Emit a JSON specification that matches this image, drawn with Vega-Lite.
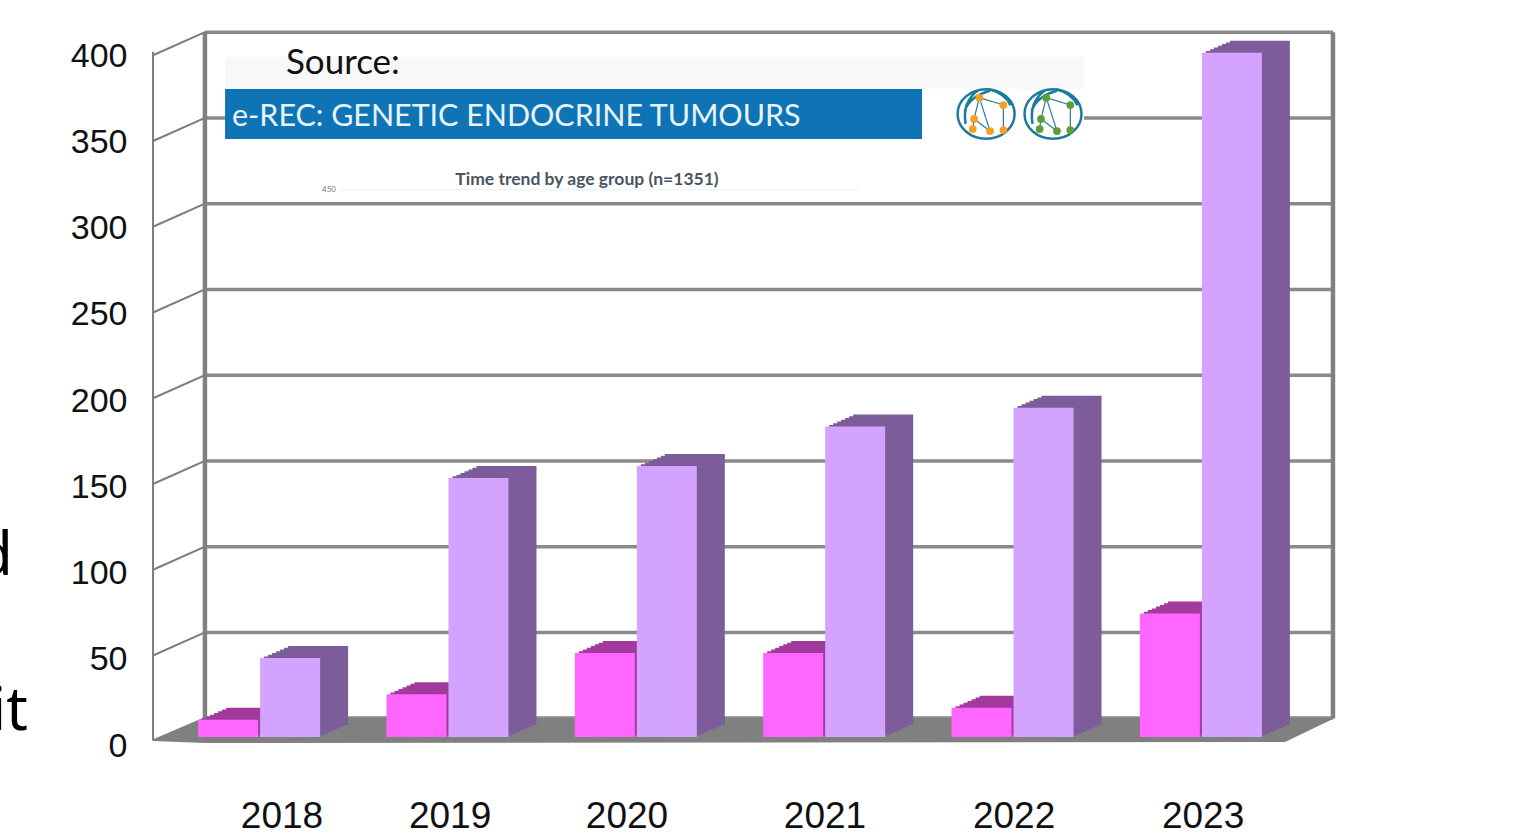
{
"$schema":"https://vega.github.io/schema/vega-lite/v6.json",
"width":1533,"height":836,"padding":0,"autosize":{"type":"none"},"background":"white",
"config":{"view":{"stroke":null}},
"datasets":{
"bars":[
{"year":"2018","series":"children","count":10},{"year":"2018","series":"adult","count":46},
{"year":"2019","series":"children","count":25},{"year":"2019","series":"adult","count":151},
{"year":"2020","series":"children","count":49},{"year":"2020","series":"adult","count":158},
{"year":"2021","series":"children","count":49},{"year":"2021","series":"adult","count":181},
{"year":"2022","series":"children","count":17},{"year":"2022","series":"adult","count":192},
{"year":"2023","series":"children","count":72},{"year":"2023","series":"adult","count":399}],
"rules":[
{"kind":"grid","a":2017.712,"b":2023.712,"u":11.08,"v":11.08},
{"kind":"grid","a":2017.712,"b":2023.712,"u":61,"v":61},
{"kind":"grid","a":2017.712,"b":2023.712,"u":111,"v":111},
{"kind":"grid","a":2017.712,"b":2023.712,"u":161,"v":161},
{"kind":"grid","a":2017.712,"b":2023.712,"u":211,"v":211},
{"kind":"grid","a":2017.712,"b":2023.712,"u":261,"v":261},
{"kind":"grid","a":2017.712,"b":2023.712,"u":311,"v":311},
{"kind":"grid","a":2017.712,"b":2023.712,"u":361,"v":361},
{"kind":"grid","a":2017.712,"b":2023.712,"u":411,"v":411},
{"kind":"wall","a":2017.712,"b":2017.712,"u":11.08,"v":411},
{"kind":"wall","a":2023.712,"b":2023.712,"u":11.08,"v":411},
{"kind":"side","a":2017.436,"b":2017.436,"u":-2,"v":399.5},
{"kind":"side","a":2017.436,"b":2017.712,"u":-2,"v":11},
{"kind":"side","a":2017.436,"b":2017.712,"u":47.5,"v":61},
{"kind":"side","a":2017.436,"b":2017.712,"u":97.5,"v":111},
{"kind":"side","a":2017.436,"b":2017.712,"u":147.5,"v":161},
{"kind":"side","a":2017.436,"b":2017.712,"u":197.5,"v":211},
{"kind":"side","a":2017.436,"b":2017.712,"u":247.5,"v":261},
{"kind":"side","a":2017.436,"b":2017.712,"u":297.5,"v":311},
{"kind":"side","a":2017.436,"b":2017.712,"u":347.5,"v":361},
{"kind":"side","a":2017.436,"b":2017.712,"u":397.5,"v":411},
{"kind":"faint","a":2018.43,"b":2021.196,"u":319,"v":319},
{"kind":"net","a":2021.831,"b":2021.803,"u":372.8,"v":360.4},
{"kind":"net","a":2021.831,"b":2021.959,"u":372.8,"v":368.5},
{"kind":"net","a":2021.803,"b":2021.888,"u":360.4,"v":353.3},
{"kind":"net","a":2021.831,"b":2021.888,"u":372.8,"v":353.3},
{"kind":"net","a":2021.959,"b":2021.959,"u":368.5,"v":353.9},
{"kind":"net","a":2021.803,"b":2021.796,"u":360.4,"v":354.5},
{"kind":"net","a":2022.187,"b":2022.159,"u":372.8,"v":360.4},
{"kind":"net","a":2022.187,"b":2022.315,"u":372.8,"v":368.5},
{"kind":"net","a":2022.159,"b":2022.244,"u":360.4,"v":353.3},
{"kind":"net","a":2022.187,"b":2022.244,"u":372.8,"v":353.3},
{"kind":"net","a":2022.315,"b":2022.315,"u":368.5,"v":353.9},
{"kind":"net","a":2022.159,"b":2022.152,"u":360.4,"v":354.5}],
"floor":[{"a":2017.436,"u":-2.3,"v":-2.3},{"a":2017.712,"u":-3.5,"v":11.08},{"a":2023.457,"u":-2.9,"v":11.08},{"a":2023.723,"u":11.08,"v":11.08}],
"boxes":[
{"kind":"white","a":2017.819,"b":2022.388,"u":396.5,"v":319.5},
{"kind":"pale","a":2017.819,"b":2022.388,"u":396.5,"v":377.8},
{"kind":"blue","a":2017.819,"b":2021.526,"u":377.8,"v":348.7}],
"notes":[
{"kind":"source","a":2018.143,"u":392.9,"label":"Source:"},
{"kind":"banner","a":2017.856,"u":361.4,"label":"e-REC: GENETIC ENDOCRINE TUMOURS"},
{"kind":"sub","a":2019.744,"u":324.9,"label":"Time trend by age group (n=1351)"},
{"kind":"tiny","a":2018.372,"u":319,"label":"450"},
{"kind":"year","a":2018.122,"u":-46.5,"label":"2018"},
{"kind":"year","a":2019.016,"u":-46.5,"label":"2019"},
{"kind":"year","a":2019.957,"u":-46.5,"label":"2020"},
{"kind":"year","a":2021.01,"u":-46.5,"label":"2021"},
{"kind":"year","a":2022.016,"u":-46.5,"label":"2022"},
{"kind":"year","a":2023.021,"u":-46.5,"label":"2023"},
{"kind":"frag","a":2016.691,"u":94.5,"label":"d"},
{"kind":"frag","a":2016.771,"u":4.1,"label":"it"}],
"rings":[{"a":2021.867,"u":363.3},{"a":2022.223,"u":363.3}],
"nodes":[
{"net":"orange","a":2021.831,"u":372.8},{"net":"orange","a":2021.959,"u":368.5},{"net":"orange","a":2021.803,"u":360.4},{"net":"orange","a":2021.796,"u":354.5},{"net":"orange","a":2021.888,"u":353.3},{"net":"orange","a":2021.959,"u":353.9},
{"net":"green","a":2022.187,"u":372.8},{"net":"green","a":2022.315,"u":368.5},{"net":"green","a":2022.159,"u":360.4},{"net":"green","a":2022.152,"u":354.5},{"net":"green","a":2022.244,"u":353.3},{"net":"green","a":2022.315,"u":353.9}]
},
"resolve":{"scale":{"x":"independent","y":"independent"},"axis":{"y":"independent"}},
"layer":[
{"encoding":{
  "x":{"field":"a","type":"quantitative","axis":null,"scale":{"domain":[2016.622,2024.776],"range":[0,1533]}},
  "y":{"field":"u","type":"quantitative","axis":null,"scale":{"domain":[0,400],"range":[737,51],"nice":false}}
 },
 "layer":[
  {"data":{"name":"rules"},"transform":[{"filter":"datum.kind==='grid'"}],"mark":{"type":"rule","color":"#8a8a8a","strokeWidth":3.5},"encoding":{"x2":{"field":"b"},"y2":{"field":"v"}}},
  {"data":{"name":"rules"},"transform":[{"filter":"datum.kind==='wall'"}],"mark":{"type":"rule","color":"#808080","strokeWidth":4.5},"encoding":{"x2":{"field":"b"},"y2":{"field":"v"}}},
  {"data":{"name":"rules"},"transform":[{"filter":"datum.kind==='side'"}],"mark":{"type":"rule","color":"#7d7d7d","strokeWidth":2},"encoding":{"x2":{"field":"b"},"y2":{"field":"v"}}},
  {"data":{"name":"floor"},"mark":{"type":"area","color":"#808080","opacity":1},"encoding":{"y2":{"field":"v"}}},
  {"data":{"name":"boxes"},"transform":[{"filter":"datum.kind==='white'"}],"mark":{"type":"rect","color":"#ffffff"},"encoding":{"x2":{"field":"b"},"y2":{"field":"v"}}},
  {"data":{"name":"boxes"},"transform":[{"filter":"datum.kind==='pale'"}],"mark":{"type":"rect","color":"#f8f8f8"},"encoding":{"x2":{"field":"b"},"y2":{"field":"v"}}},
  {"data":{"name":"boxes"},"transform":[{"filter":"datum.kind==='blue'"}],"mark":{"type":"rect","color":"#0f74b6"},"encoding":{"x2":{"field":"b"},"y2":{"field":"v"}}},
  {"data":{"name":"rules"},"transform":[{"filter":"datum.kind==='faint'"}],"mark":{"type":"rule","color":"#eeeeee","strokeWidth":1},"encoding":{"x2":{"field":"b"},"y2":{"field":"v"}}},
  {"data":{"name":"rules"},"transform":[{"filter":"datum.kind==='net'"}],"mark":{"type":"rule","color":"#2a7d9c","strokeWidth":1.2},"encoding":{"x2":{"field":"b"},"y2":{"field":"v"}}},
  {"data":{"name":"rings"},"mark":{"type":"point","shape":"M -1 0 A 1 0.87 0 1 1 1 0 A 1 0.87 0 1 1 -1 0 Z M -0.25 -0.85 Q -0.85 -0.45 -0.72 0.35 M 0.1 -0.87 Q 0.7 -0.7 0.85 -0.3 M -0.75 -0.1 Q -0.6 -0.6 0.15 -0.82","size":3249,"filled":false,"color":"#1c7a9c","strokeWidth":2.5,"opacity":1}},
  {"data":{"name":"nodes"},"transform":[{"filter":"datum.net==='orange'"}],"mark":{"type":"point","shape":"circle","size":60,"filled":true,"color":"#f5a01e","opacity":1}},
  {"data":{"name":"nodes"},"transform":[{"filter":"datum.net==='green'"}],"mark":{"type":"point","shape":"circle","size":60,"filled":true,"color":"#5f9e35","opacity":1}},
  {"data":{"name":"notes"},"transform":[{"filter":"datum.kind==='source'"}],"mark":{"type":"text","align":"left","baseline":"middle","font":"Lato","fontSize":35,"color":"#111111"},"encoding":{"text":{"field":"label"}}},
  {"data":{"name":"notes"},"transform":[{"filter":"datum.kind==='banner'"}],"mark":{"type":"text","align":"left","baseline":"middle","font":"Lato","fontSize":30.4,"color":"#e8f4fa"},"encoding":{"text":{"field":"label"}}},
  {"data":{"name":"notes"},"transform":[{"filter":"datum.kind==='sub'"}],"mark":{"type":"text","align":"center","baseline":"middle","font":"Lato","fontWeight":"bold","fontSize":17.5,"color":"#4a5560"},"encoding":{"text":{"field":"label"}}},
  {"data":{"name":"notes"},"transform":[{"filter":"datum.kind==='tiny'"}],"mark":{"type":"text","align":"center","baseline":"middle","font":"Lato","fontSize":8,"color":"#777777"},"encoding":{"text":{"field":"label"}}},
  {"data":{"name":"notes"},"transform":[{"filter":"datum.kind==='year'"}],"mark":{"type":"text","align":"center","baseline":"middle","font":"Liberation Sans","fontSize":37,"color":"#111111"},"encoding":{"text":{"field":"label"}}},
  {"data":{"name":"notes"},"transform":[{"filter":"datum.kind==='frag'"}],"mark":{"type":"text","align":"right","baseline":"alphabetic","font":"Noto Sans","fontSize":60,"color":"#000000"},"encoding":{"text":{"field":"label"}}}
 ]},
{"data":{"name":"bars"},
 "mark":{"type":"rule","opacity":0},
 "encoding":{
  "y":{"field":"count","type":"quantitative","scale":{"domain":[0,400],"range":[746,56],"nice":false},
   "axis":{"title":null,"values":[0,50,100,150,200,250,300,350,400],"domain":false,"ticks":false,"grid":false,"offset":-127,"labelPadding":0,"labelFont":"Liberation Sans","labelFontSize":34,"labelColor":"#111111"}}
 }},
{"data":{"name":"bars"},
 "transform":[{"filter":"datum.series==='children'"}],
 "encoding":{
  "x":{"field":"year","type":"nominal","axis":null,"scale":{"type":"band","range":[198,1262],"paddingInner":0.351,"paddingOuter":0}},
  "y":{"field":"count","type":"quantitative","stack":null,"axis":null,"scale":{"domain":[0,400],"range":[737,51],"nice":false}},
  "y2":{"datum":0}
 },
 "layer":[
  {"mark":{"type":"bar","width":60,"xOffset":-27,"yOffset":-1.7,"y2Offset":-1.7,"color":"#a23a9e"}},
  {"mark":{"type":"bar","width":60,"xOffset":-23,"yOffset":-3.4,"y2Offset":-3.4,"color":"#a23a9e"}},
  {"mark":{"type":"bar","width":60,"xOffset":-19,"yOffset":-5.1,"y2Offset":-5.1,"color":"#a23a9e"}},
  {"mark":{"type":"bar","width":60,"xOffset":-15,"yOffset":-6.9,"y2Offset":-6.9,"color":"#a23a9e"}},
  {"mark":{"type":"bar","width":60,"xOffset":-11,"yOffset":-8.6,"y2Offset":-8.6,"color":"#a23a9e"}},
  {"mark":{"type":"bar","width":60,"xOffset":-7,"yOffset":-10.3,"y2Offset":-10.3,"color":"#a23a9e"}},
  {"mark":{"type":"bar","width":60,"xOffset":-3,"yOffset":-12,"y2Offset":-12,"color":"#a23a9e"}},
  {"mark":{"type":"bar","width":60,"xOffset":-31},"encoding":{"color":{"field":"series","type":"nominal","scale":{"domain":["children","adult"],"range":["#ff66ff","#d4a2ff"]},"legend":null}}}
 ]},
{"data":{"name":"bars"},
 "transform":[{"filter":"datum.series==='adult'"}],
 "encoding":{
  "x":{"field":"year","type":"nominal","axis":null,"scale":{"type":"band","range":[198,1262],"paddingInner":0.351,"paddingOuter":0}},
  "y":{"field":"count","type":"quantitative","stack":null,"axis":null,"scale":{"domain":[0,400],"range":[737,51],"nice":false}},
  "y2":{"datum":0}
 },
 "layer":[
  {"mark":{"type":"bar","width":60,"xOffset":35,"yOffset":-1.7,"y2Offset":-1.7,"color":"#7d5c9b"}},
  {"mark":{"type":"bar","width":60,"xOffset":39,"yOffset":-3.4,"y2Offset":-3.4,"color":"#7d5c9b"}},
  {"mark":{"type":"bar","width":60,"xOffset":43,"yOffset":-5.1,"y2Offset":-5.1,"color":"#7d5c9b"}},
  {"mark":{"type":"bar","width":60,"xOffset":47,"yOffset":-6.9,"y2Offset":-6.9,"color":"#7d5c9b"}},
  {"mark":{"type":"bar","width":60,"xOffset":51,"yOffset":-8.6,"y2Offset":-8.6,"color":"#7d5c9b"}},
  {"mark":{"type":"bar","width":60,"xOffset":55,"yOffset":-10.3,"y2Offset":-10.3,"color":"#7d5c9b"}},
  {"mark":{"type":"bar","width":60,"xOffset":59,"yOffset":-12,"y2Offset":-12,"color":"#7d5c9b"}},
  {"mark":{"type":"bar","width":60,"xOffset":31},"encoding":{"color":{"field":"series","type":"nominal","scale":{"domain":["children","adult"],"range":["#ff66ff","#d4a2ff"]},
    "legend":{"title":null,"orient":"none","legendX":1364,"legendY":361,"symbolType":"square","symbolSize":256,"symbolStrokeWidth":0,"labelFont":"Liberation Sans","labelFontSize":25,"labelColor":"#111111","rowPadding":13,"labelOffset":3}}}}
 ]}
]}
